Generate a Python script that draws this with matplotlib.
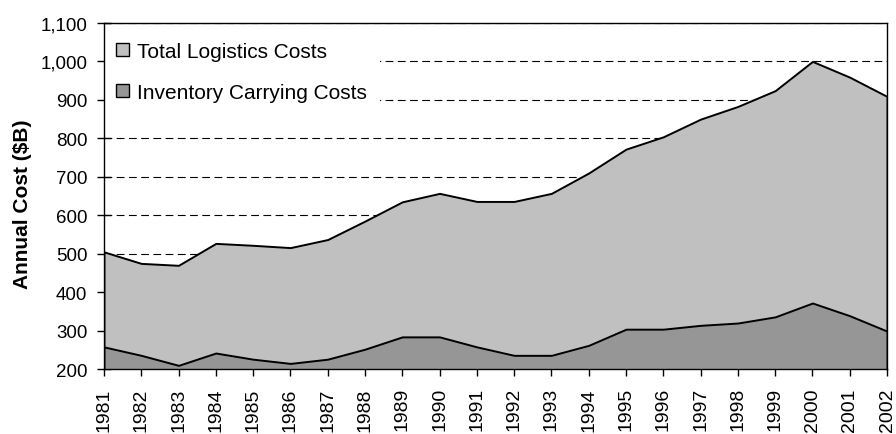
import matplotlib.pyplot as plt
from matplotlib.patches import Patch
import numpy as np

plt.rcParams['font.family'] = ['Liberation Sans', 'DejaVu Sans']

# annual cost, $ billions
years = np.arange(1981, 2003)
total = [505, 475, 470, 527, 522, 516, 537, 585, 635, 657, 636,
         636, 657, 710, 772, 804, 850, 883, 924, 1000, 959, 909]
inventory = [258, 236, 210, 242, 226, 215, 226, 252, 284, 284, 258,
             236, 236, 262, 304, 304, 314, 320, 336, 372, 339, 299]

yticks = np.arange(200, 1101, 100)
yticklabels = [f"{v:,}" for v in yticks]

fig, ax = plt.subplots(figsize=(8.96, 4.35), dpi=100)
fig.subplots_adjust(left=0.116, right=0.990, top=0.945, bottom=0.149)

ax.fill_between(years, 0, total, facecolor='#c0c0c0', edgecolor='black',
                linewidth=1.4, zorder=2)
ax.fill_between(years, 0, inventory, facecolor='#969696', edgecolor='black',
                linewidth=1.4, zorder=3)

ax.set_xlim(1981, 2002)
ax.set_ylim(200, 1100)
ax.set_yticks(yticks)
ax.set_yticklabels(yticklabels, fontsize=13.5)
ax.set_xticks(years)
ax.set_xticklabels(years, rotation=90, fontsize=14)
ax.tick_params(axis='y', direction='inout', length=10, width=1, pad=7)
ax.tick_params(axis='x', direction='out', length=5, width=1, pad=8)

ax.yaxis.grid(True, linestyle=(0, (7, 4)), color='black', linewidth=0.8)
ax.set_axisbelow(True)
for s in ax.spines.values():
    s.set_linewidth(1)
    s.set_color('black')
    s.set_zorder(6)  # keep the frame on top of the legend box

ax.set_ylabel('Annual Cost ($B)', fontsize=15, fontweight='bold')
ax.yaxis.set_label_coords(-0.092, 0.48)

handles = [Patch(facecolor='#c0c0c0', edgecolor='black', linewidth=1),
           Patch(facecolor='#969696', edgecolor='black', linewidth=1)]
leg = ax.legend(handles, ['Total Logistics Costs', 'Inventory Carrying Costs'],
                loc='upper left', bbox_to_anchor=(-0.008, 1.0),
                fontsize=15, frameon=True, facecolor='white',
                edgecolor='none', framealpha=1, fancybox=False,
                handlelength=0.6, handleheight=0.6, handletextpad=0.4,
                labelspacing=1.05, borderpad=0.6, borderaxespad=0.3)
leg.set_zorder(5)

fig.savefig('out.png', dpi=100)
